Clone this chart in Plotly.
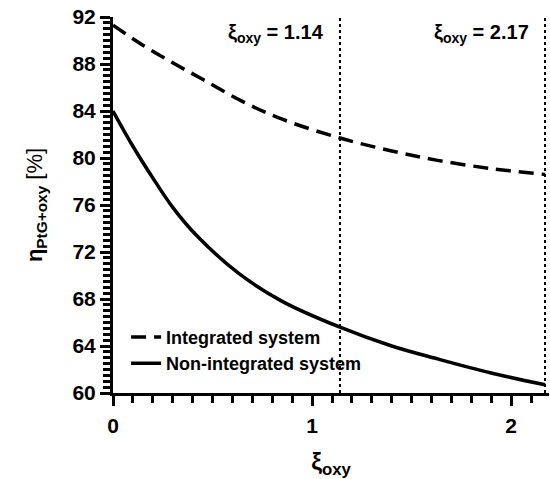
import plotly.graph_objects as go

# Data
x_integrated = [0, 0.15, 0.3, 0.45, 0.64, 0.85, 1.14, 1.4, 1.63, 1.9, 2.17]
eta_integrated = [91.3, 89.6, 88.1, 86.7, 84.9, 83.3, 81.7, 80.6, 79.8, 79.1, 78.6]

x_non_integrated = [0, 0.1, 0.2, 0.3, 0.42, 0.63, 0.85, 1.14, 1.4, 1.63, 1.9, 2.17]
eta_non_integrated = [84.0, 81.0, 78.3, 75.8, 73.4, 70.2, 67.8, 65.6, 64.0, 62.9, 61.7, 60.7]

xi_markers = [1.14, 2.17]
marker_labels = ["1.14", "2.17"]

x_tick_step = 1
y_tick_first = 60
y_tick_step = 4

FONT = "Liberation Sans, Arial, sans-serif"

fig = go.Figure()
fig.add_trace(go.Scatter(
    x=x_integrated, y=eta_integrated, mode="lines", name="<b>Integrated system</b>",
    line=dict(color="black", width=3.5, dash="15px,8px", shape="spline"),
))
fig.add_trace(go.Scatter(
    x=x_non_integrated, y=eta_non_integrated, mode="lines", name="<b>Non-integrated system</b>",
    line=dict(color="black", width=3.5, shape="spline"),
))

for xv, lab in zip(xi_markers, marker_labels):
    fig.add_shape(type="line", x0=xv, x1=xv, xref="x", y0=0, y1=1, yref="paper",
                  line=dict(color="black", width=2, dash="dot"))
    fig.add_annotation(x=xv, xref="x", y=1, yref="paper", xanchor="right", yanchor="top",
                       xshift=-14, yshift=-2, showarrow=False,
                       text=f"<b>ξ<sub>oxy</sub> = {lab}</b>",
                       font=dict(family=FONT, size=20, color="black"))

fig.update_layout(
    width=550, height=479,
    margin=dict(l=113, r=1, t=17, b=86),
    paper_bgcolor="white", plot_bgcolor="white",
    font=dict(family=FONT, color="black"),
    showlegend=True,
    legend=dict(x=0.03, y=0.03, xanchor="left", yanchor="bottom",
                bgcolor="rgba(0,0,0,0)", font=dict(size=18, family=FONT),
                itemwidth=30, tracegroupgap=0),
    xaxis=dict(
        range=[0, 2.19], tickmode="linear", tick0=0, dtick=x_tick_step,
        ticks="outside", ticklen=10, tickwidth=3, tickcolor="black",
        showline=True, linecolor="black", linewidth=3, showgrid=False, zeroline=False,
        tickfont=dict(size=21, family=FONT, weight="bold"), ticklabelstandoff=2,
        minor=dict(dtick=0.1, tick0=0, ticks="outside", ticklen=7, tickwidth=2.5,
                   tickcolor="black", showgrid=False),
        title=dict(text="<b>ξ<sub>oxy</sub></b>", font=dict(size=24, family=FONT), standoff=22),
    ),
    yaxis=dict(
        range=[60, 92], tickmode="linear", tick0=y_tick_first, dtick=y_tick_step,
        ticks="outside", ticklen=10, tickwidth=3, tickcolor="black",
        showline=True, linecolor="black", linewidth=3, showgrid=False, zeroline=False,
        tickfont=dict(size=21, family=FONT, weight="bold"),
        minor=dict(dtick=0.5, tick0=60, ticks="outside", ticklen=7, tickwidth=2.5,
                   tickcolor="black", showgrid=False),
        title=dict(text="<b>η<sub>PtG+oxy</sub></b> [%]", font=dict(size=22, family=FONT), standoff=24),
    ),
)

fig.write_html("out.html")
